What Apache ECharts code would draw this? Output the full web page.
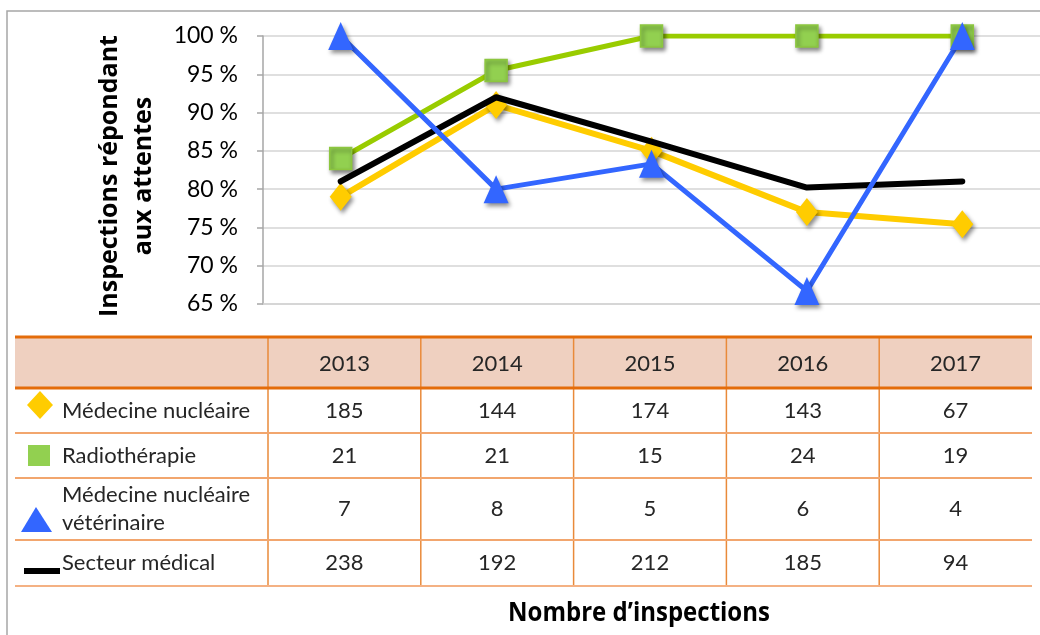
<!DOCTYPE html>
<html lang="fr">
<head>
<meta charset="UTF-8">
<title>Inspections répondant aux attentes</title>
<script src="https://cdn.jsdelivr.net/npm/echarts@6/dist/echarts.min.js"></script>
<style>
  * { margin: 0; padding: 0; box-sizing: border-box; }
  html, body { width: 1040px; height: 635px; background: #fff; overflow: hidden; }
  #chart { width: 1040px; height: 635px; }
</style>
</head>
<body>
<div id="chart"></div>
<script>
// Données
var years = ['2013', '2014', '2015', '2016', '2017'];

// % d'inspections répondant aux attentes
var medNucPct = [79, 91, 85, 77, 75.4];
var radioPct = [84, 95.5, 100, 100, 100];
var vetPct = [100, 80, 83.3, 66.7, 100];
var secteurPct = [81, 92, 86.2, 80.2, 81];

// Nombre d'inspections (tableau)
var medNucCount = [185, 144, 174, 143, 67];
var radioCount = [21, 21, 15, 24, 19];
var vetCount = [7, 8, 5, 6, 4];
var secteurCount = [238, 192, 212, 185, 94];

var rowNames = ['Médecine nucléaire', 'Radiothérapie', 'Médecine nucléaire\nvétérinaire', 'Secteur médical'];
var rowCounts = [medNucCount, radioCount, vetCount, secteurCount];

var FONT = 'Lato, "Open Sans", sans-serif';
var BOLD_FONT = '"Open Sans", Lato, sans-serif';
var TXT = '#262626';

var chartDom = document.getElementById('chart');
var myChart = echarts.init(chartDom);

// ombre des marqueurs
var shadow = { shadowColor: 'rgba(0,0,0,0.45)', shadowBlur: 4, shadowOffsetX: 2, shadowOffsetY: 3 };

var option = {
  animation: false,
  backgroundColor: '#fff',
  grid: { left: 263, right: 0, top: 36, bottom: 331 },
  xAxis: {
    type: 'category',
    data: years,
    boundaryGap: true,
    axisLabel: { show: false },
    axisTick: { show: false },
    axisLine: { lineStyle: { color: '#d4d4d4', width: 1.5 } }
  },
  yAxis: {
    type: 'value',
    min: 65,
    max: 100,
    interval: 5,
    name: 'Inspections répondant\naux attentes',
    nameLocation: 'middle',
    nameRotate: 90,
    nameGap: 102,
    nameTextStyle: { fontFamily: BOLD_FONT, fontWeight: 'bold', fontSize: 25, color: '#000', lineHeight: 34, padding: [0, 12, 0, 0] },
    axisLine: { show: true, lineStyle: { color: '#a6a6a6', width: 1.5 } },
    axisTick: { show: true, length: 6, lineStyle: { color: '#a6a6a6', width: 1.5 } },
    axisLabel: {
      margin: 25,
      fontFamily: FONT,
      fontSize: 23,
      color: '#000',
      formatter: function (v) { return v + ' %'; }
    },
    splitLine: { lineStyle: { color: '#d4d4d4', width: 1.5 } }
  },
  series: [
    {
      name: 'Médecine nucléaire',
      type: 'line',
      data: medNucPct,
      z: 2,
      symbol: 'diamond',
      symbolSize: [22, 28],
      lineStyle: { color: '#FFCC00', width: 6 },
      itemStyle: Object.assign({ color: '#FFCC00' }, shadow)
    },
    {
      name: 'Radiothérapie',
      type: 'line',
      data: radioPct,
      z: 3,
      symbol: 'rect',
      symbolSize: 22,
      lineStyle: { color: '#99CC00', width: 5 },
      itemStyle: Object.assign({ color: '#92D050', borderColor: '#8CC63F', borderWidth: 1.5 }, shadow)
    },
    {
      name: 'Secteur médical',
      type: 'line',
      data: secteurPct,
      z: 4,
      symbol: 'none',
      lineStyle: { color: '#000', width: 6, cap: 'round', join: 'round' }
    },
    {
      name: 'Médecine nucléaire vétérinaire',
      type: 'line',
      data: vetPct,
      z: 5,
      symbol: 'triangle',
      symbolSize: [25, 28],
      lineStyle: { color: '#3366FF', width: 5 },
      itemStyle: Object.assign({ color: '#3366FF' }, shadow)
    }
  ]
};

myChart.setOption(option);

// Tableau "Nombre d'inspections" dessiné avec graphic
var tLeft = 15, tRight = 1032, tFirst = 268;
var rowEdges = [337, 388, 433, 478, 540, 586];
var colW = (tRight - tFirst) / years.length;
var els = [];

// cadre extérieur
els.push({ type: 'rect', shape: { x: 7, y: 11, width: 1100, height: 700 },
  style: { fill: 'none', stroke: '#a6a6a6', lineWidth: 1.5 }, z: -1 });

// fond de l'en-tête
els.push({ type: 'rect', shape: { x: tLeft, y: rowEdges[0], width: tRight - tLeft, height: rowEdges[1] - rowEdges[0] },
  style: { fill: '#EFD0C0' } });

// lignes verticales
for (var c = 0; c < years.length; c++) {
  var cx = tFirst + c * colW;
  els.push({ type: 'line', shape: { x1: cx, y1: rowEdges[0], x2: cx, y2: rowEdges[5] },
    style: { stroke: '#E98A3A', lineWidth: 1.5 } });
}

// lignes horizontales
rowEdges.forEach(function (y, i) {
  var heavy = i < 2;
  els.push({ type: 'line', shape: { x1: tLeft, y1: y, x2: tRight, y2: y },
    style: { stroke: heavy ? '#E46C0A' : (i === 5 ? '#F4B183' : '#F2A66E'), lineWidth: heavy ? 3 : 2 } });
});

// années dans l'en-tête
years.forEach(function (yr, c) {
  els.push({ type: 'text', x: tFirst + (c + 0.5) * colW, y: (rowEdges[0] + rowEdges[1]) / 2 + 1,
    style: { text: yr, font: '22px ' + FONT, fill: TXT, align: 'center', verticalAlign: 'middle' } });
});

// lignes de données
rowNames.forEach(function (name, r) {
  var yMid = (rowEdges[r + 1] + rowEdges[r + 2]) / 2;
  els.push({ type: 'text', x: 62, y: yMid,
    style: { text: name, font: '22px ' + FONT, fill: TXT, align: 'left', verticalAlign: 'middle', lineHeight: 28 } });
  rowCounts[r].forEach(function (v, c) {
    els.push({ type: 'text', x: tFirst + (c + 0.5) * colW, y: yMid,
      style: { text: String(v), font: '22px ' + FONT, fill: TXT, align: 'center', verticalAlign: 'middle' } });
  });
});

// symboles de légende
els.push({ type: 'polygon', shape: { points: [[40, 391], [53, 405], [40, 419], [27, 405]] }, style: { fill: '#FFCC00' } });
els.push({ type: 'rect', shape: { x: 28, y: 445, width: 22, height: 21 }, style: { fill: '#92D050' } });
els.push({ type: 'polygon', shape: { points: [[36, 507], [52, 532], [21, 532]] }, style: { fill: '#3366FF' } });
els.push({ type: 'rect', shape: { x: 24, y: 568, width: 36, height: 6 }, style: { fill: '#000' } });

// titre du tableau
els.push({ type: 'text', x: 639, y: 613, scaleY: 1.12, originX: 0, originY: 0,
  style: { text: 'Nombre d’inspections', font: 'bold 24px ' + BOLD_FONT, fill: '#000', align: 'center', verticalAlign: 'middle' } });

myChart.setOption({ graphic: { elements: els } });

window.addEventListener('resize', function () {
  myChart.resize();
});
</script>
</body>
</html>
